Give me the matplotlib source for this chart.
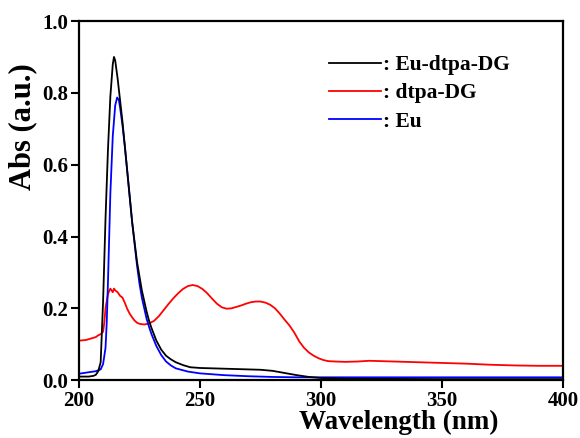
import numpy as np
import matplotlib
matplotlib.use('Agg')
import matplotlib.pyplot as plt

plt.rcParams['font.family'] = ['Liberation Serif', 'DejaVu Serif']
plt.rcParams['font.weight'] = 'bold'

# Eu-dtpa-DG (black)
wl_complex = [200, 204, 206, 207, 208, 209, 210, 211, 212, 213, 214, 214.5, 215, 216, 217,
              218, 219, 220, 221, 222, 223, 224, 225, 226, 227, 228, 229, 230, 232, 234,
              236, 238, 240, 243, 246, 250, 260, 270, 275, 280, 285, 290, 295, 300, 310,
              350, 400]
abs_complex = [0.010, 0.010, 0.012, 0.015, 0.025, 0.05, 0.22, 0.45, 0.64, 0.79, 0.88, 0.90,
               0.89, 0.84, 0.78, 0.72, 0.65, 0.58, 0.51, 0.44, 0.385, 0.33, 0.29, 0.25, 0.22,
               0.19, 0.165, 0.145, 0.11, 0.085, 0.068, 0.058, 0.050, 0.042, 0.036, 0.034,
               0.032, 0.030, 0.029, 0.026, 0.020, 0.014, 0.009, 0.006, 0.004, 0.003, 0.003]

# dtpa-DG (red)
wl_ligand = [200, 203, 205, 207, 208, 209, 210, 210.5, 211, 212, 213, 213.5, 214, 214.5, 215,
             216, 217, 218, 219, 220, 221, 222, 223, 224, 225, 227, 229, 231, 233, 235, 237,
             239, 241, 243, 245, 247, 249, 251, 253, 255, 257, 259, 261, 263, 265, 267, 269,
             271, 273, 275, 277, 279, 281, 283, 285, 287, 289, 291, 293, 295, 297, 299, 301,
             303, 306, 310, 315, 320, 325, 330, 340, 350, 360, 370, 380, 390, 400]
abs_ligand = [0.110, 0.112, 0.116, 0.120, 0.125, 0.128, 0.135, 0.160, 0.200, 0.240, 0.255,
              0.250, 0.245, 0.255, 0.250, 0.245, 0.235, 0.230, 0.215, 0.198, 0.185, 0.175,
              0.166, 0.160, 0.157, 0.155, 0.158, 0.165, 0.178, 0.195, 0.212, 0.228, 0.242,
              0.254, 0.262, 0.265, 0.262, 0.254, 0.242, 0.227, 0.213, 0.203, 0.199, 0.200,
              0.204, 0.208, 0.213, 0.217, 0.219, 0.219, 0.216, 0.210, 0.200, 0.185, 0.168,
              0.152, 0.132, 0.108, 0.090, 0.077, 0.068, 0.061, 0.056, 0.053, 0.052, 0.051,
              0.052, 0.054, 0.053, 0.052, 0.050, 0.048, 0.046, 0.043, 0.041, 0.040, 0.040]

# Eu (blue)
wl_eu = [200, 204, 207, 209, 210, 211, 211.5, 212, 213, 214, 215, 215.8, 216.5, 217, 218, 219,
         220, 221, 222, 223, 224, 225, 226, 227, 228, 229, 230, 232, 234, 236, 238, 240, 245,
         250, 260, 270, 280, 290, 300, 400]
abs_eu = [0.018, 0.022, 0.025, 0.030, 0.045, 0.09, 0.16, 0.27, 0.52, 0.68, 0.765, 0.787, 0.78,
          0.76, 0.71, 0.65, 0.58, 0.51, 0.44, 0.38, 0.32, 0.27, 0.23, 0.20, 0.17, 0.148, 0.128,
          0.095, 0.070, 0.052, 0.041, 0.033, 0.024, 0.019, 0.014, 0.011, 0.009, 0.008, 0.008,
          0.008]

fig = plt.figure(figsize=(5.8, 4.38), dpi=100)
ax = fig.add_axes([0.136, 0.132, 0.835, 0.820])

ax.plot(wl_complex, abs_complex, color='#000000', lw=1.3, label=': Eu-dtpa-DG', zorder=3)
ax.plot(wl_ligand, abs_ligand, color='#ff0000', lw=1.3, label=': dtpa-DG', zorder=2)
ax.plot(wl_eu, abs_eu, color='#0000ff', lw=1.3, label=': Eu', zorder=2)

ax.set_xlim(200, 400)
ax.set_ylim(0, 1.0)
ax.set_xticks([200, 250, 300, 350, 400])
ax.set_yticks([0.0, 0.2, 0.4, 0.6, 0.8, 1.0])
ax.set_yticklabels(['0.0', '0.2', '0.4', '0.6', '0.8', '1.0'])

for s in ax.spines.values():
    s.set_linewidth(1.6)
ax.tick_params(direction='out', length=6, width=1.5, labelsize=15, pad=1.5)

ax.set_xlabel('Wavelength (nm)', fontsize=19.5, fontweight='bold')
ax.set_ylabel('Abs (a.u.)', fontsize=22, fontweight='bold')
ax.xaxis.set_label_coords(0.661, -0.082)
ax.yaxis.set_label_coords(-0.085, 0.707)

ax.legend(loc='upper left', bbox_to_anchor=(0.517, 0.905), frameon=False,
          fontsize=15.5, handlelength=2.4, handletextpad=0.1, labelspacing=0.38,
          borderpad=0, borderaxespad=0)

fig.savefig('out.png', dpi=100)
